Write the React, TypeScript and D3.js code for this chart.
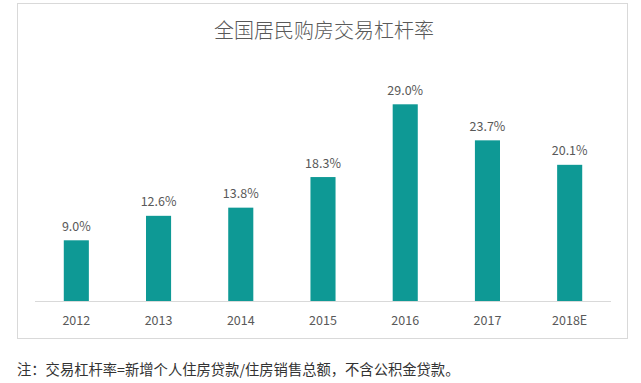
import React from "react";
import * as d3 from "d3";

const categories = ["2012", "2013", "2014", "2015", "2016", "2017", "2018E"];
const values = [9.0, 12.6, 13.8, 18.3, 29.0, 23.7, 20.1];
const title = "全国居民购房交易杠杆率";
const note = "注：交易杠杆率=新增个人住房贷款/住房销售总额，不含公积金贷款。";

export default function App() {
  const W = 641, H = 383;
  const x = d3.scaleBand<string>().domain(categories).range([35, 611]).paddingInner(0.695).paddingOuter(0.35);
  const y = d3.scaleLinear().domain([0, 35]).range([301.5, 63.5]);
  const font = "'Noto Sans CJK SC', 'Noto Sans', sans-serif";
  return (
    <svg width={W} height={H} style={{ position: "absolute", left: 0, top: 0, background: "#fff" }}>
      <rect x={17.5} y={3.5} width={610} height={335} fill="#fff" stroke="#d9d9d9" strokeWidth={1} />
      <text x={324} y={29} textAnchor="middle" dominantBaseline="central" fontFamily={font} fontSize={20} fontWeight={300} fill="#595959">{title}</text>
      {categories.map((c, i) => (
        <g key={c}>
          <rect x={x(c)} y={y(values[i])} width={x.bandwidth()} height={y(0) - y(values[i])} fill="#0e9995" />
          <text x={(x(c) as number) + x.bandwidth() / 2} y={y(values[i]) - 15} textAnchor="middle" dominantBaseline="central" fontFamily={font} fontSize={12.5} fill="#595959">{values[i].toFixed(1) + "%"}</text>
          <text x={(x(c) as number) + x.bandwidth() / 2} y={319} textAnchor="middle" dominantBaseline="central" fontFamily={font} fontSize={12.5} fill="#595959">{c}</text>
        </g>
      ))}
      <line x1={35} x2={611} y1={301.5} y2={301.5} stroke="#d9d9d9" strokeWidth={1} />
      <text x={17} y={368} dominantBaseline="central" fontFamily={font} fontSize={14.3} fill="#333">{note}</text>
    </svg>
  );
}
